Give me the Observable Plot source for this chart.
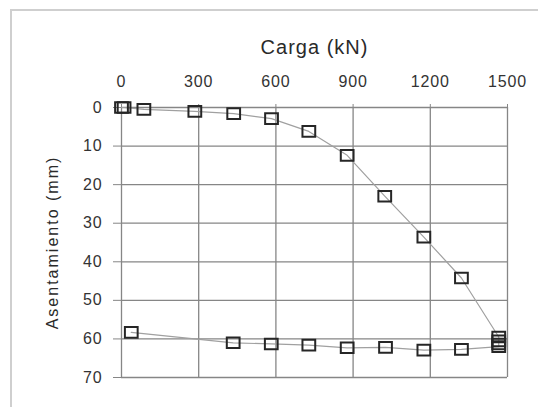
<!DOCTYPE html>
<html>
<head>
<meta charset="utf-8">
<script src="https://cdn.jsdelivr.net/npm/d3@7"></script>
<script src="https://cdn.jsdelivr.net/npm/@observablehq/plot@0.6"></script>
<style>
  html, body { margin: 0; padding: 0; background: #fff; overflow: hidden; }
  #wrap { position: relative; width: 538px; height: 407px; }
  #border { position: absolute; left: 10px; top: 9px; width: 560px; height: 420px;
            border-top: 2px solid #cfcfcf; border-left: 2px solid #cfcfcf; box-sizing: border-box; }
  #chart { position: absolute; left: 0; top: 0; }
  svg text { font-family: "Liberation Sans", Arial, sans-serif; }
</style>
</head>
<body>
<div id="wrap"><div id="border"></div><div id="chart"></div></div>
<script>
const xTitle = "Carga (kN)";
const yTitle = "Asentamiento (mm)";
const xTicks = [0, 300, 600, 900, 1200, 1500];
const yTicks = [0, 10, 20, 30, 40, 50, 60, 70];

// loading branch
const loadUp   = [0, 10, 87, 285, 436, 583, 728, 877, 1023, 1175, 1321, 1466];
const settleUp = [0, 0, 0.5, 1.0, 1.6, 2.9, 6.2, 12.4, 23.0, 33.6, 44.2, 59.5];
// unloading branch
const loadDown   = [1466, 1466, 1466, 1321, 1175, 1026, 877, 728, 582, 434, 38];
const settleDown = [60.5, 61.3, 62.0, 62.7, 62.9, 62.2, 62.3, 61.6, 61.3, 61.0, 58.3];

const pts = [
  ...loadUp.map((c, i) => ({carga: c, asent: settleUp[i]})),
  ...loadDown.map((c, i) => ({carga: c, asent: settleDown[i]}))
];

const rectSym = { draw(ctx, size) { const s = Math.sqrt(size); ctx.rect(-0.6 * s, -0.5 * s, 1.2 * s, s); } };

const chart = Plot.plot({
  width: 538, height: 407,
  marginLeft: 121, marginRight: 31, marginTop: 107, marginBottom: 30,
  style: { fontFamily: "Liberation Sans, Arial, sans-serif", background: "transparent" },
  x: { domain: [0, 1500] },
  y: { domain: [0, 70], reverse: true },
  marks: [
    Plot.gridX(xTicks, { stroke: "#868686", strokeOpacity: 1, strokeWidth: 1.3 }),
    Plot.gridY(yTicks, { stroke: "#868686", strokeOpacity: 1, strokeWidth: 1.3 }),
    Plot.axisX(xTicks, { anchor: "top", tickSize: 4, tickPadding: 17, fontSize: 16, fill: "#333", stroke: "#868686", label: null, tickFormat: d => String(d) }),
    Plot.axisY(yTicks, { anchor: "left", tickSize: 8, tickPadding: 11, fontSize: 16, fill: "#333", stroke: "#868686", label: null, tickFormat: d => String(d) }),
    Plot.line(pts, { x: "carga", y: "asent", stroke: "#a0a0a0", strokeWidth: 1.2 }),
    Plot.dot(pts, { x: "carga", y: "asent", symbol: rectSym, r: 6, stroke: "#262626", strokeWidth: 2, fill: "none" }),
    Plot.text([xTitle], { frameAnchor: "top", dy: -60, fontSize: 20, fill: "#2a2a2a", lineAnchor: "middle", textAnchor: "middle" }),
    Plot.text([yTitle], { frameAnchor: "left", dx: -69, rotate: -90, fontSize: 16, fill: "#2a2a2a", lineAnchor: "middle", textAnchor: "middle" })
  ]
});
document.getElementById("chart").appendChild(chart);

// letter spacing to match the wide lettering of the original
d3.select(chart).selectAll("[aria-label='x-axis tick label'] text, [aria-label='y-axis tick label'] text").style("letter-spacing", "0.9px");
d3.select(chart).selectAll("text").filter(function() { return this.textContent === xTitle; }).style("letter-spacing", "1px");
d3.select(chart).selectAll("text").filter(function() { return this.textContent === yTitle; }).style("letter-spacing", "2px");
</script>
</body>
</html>
